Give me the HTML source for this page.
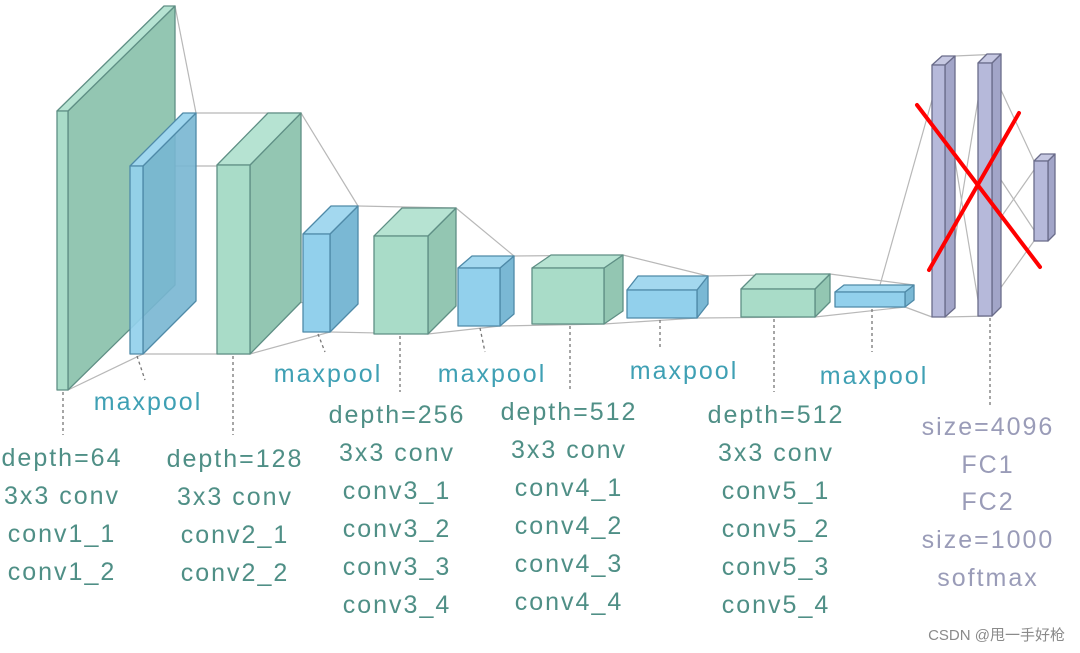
<!DOCTYPE html>
<html><head><meta charset="utf-8"><style>
body{margin:0;background:#fff;width:1080px;height:653px;overflow:hidden}
svg{display:block}
.t{font-family:"Liberation Sans","DejaVu Sans",sans-serif;font-size:25px;letter-spacing:2px;fill:#4f8f86;text-anchor:middle}
.m{fill:#3fa0b4}
.f{fill:#9a9cb8}
</style></head><body>
<svg width="1080" height="653" viewBox="0 0 1080 653">
<g stroke="#b8b8b8" stroke-width="1.2" fill="none">
<line x1="175" y1="6" x2="196" y2="113"/><line x1="68" y1="390" x2="143" y2="354"/>
<line x1="196" y1="113" x2="301" y2="113"/><line x1="143" y1="354" x2="250" y2="354"/><line x1="143" y1="166" x2="250" y2="166"/>
<line x1="301" y1="113" x2="358" y2="206"/><line x1="250" y1="354" x2="330" y2="332"/><line x1="250" y1="300" x2="330" y2="304"/>
<line x1="358" y1="206" x2="456" y2="208"/><line x1="330" y1="332" x2="428" y2="334"/>
<line x1="456" y1="208" x2="514" y2="256"/><line x1="428" y1="334" x2="500" y2="326"/>
<line x1="514" y1="256" x2="623" y2="255"/><line x1="500" y1="326" x2="604" y2="324"/>
<line x1="623" y1="255" x2="708" y2="276"/><line x1="604" y1="324" x2="697" y2="318"/>
<line x1="708" y1="276" x2="830" y2="274"/><line x1="697" y1="318" x2="815" y2="317"/>
<line x1="830" y1="274" x2="914" y2="285"/><line x1="815" y1="317" x2="905" y2="307"/>
<line x1="880" y1="285" x2="932" y2="100"/><line x1="905" y1="307" x2="932" y2="317"/>
<line x1="955" y1="56" x2="1001" y2="54"/><line x1="945" y1="317" x2="992" y2="316"/>
<line x1="945" y1="100" x2="978" y2="300"/><line x1="945" y1="300" x2="978" y2="100"/>
<line x1="1001" y1="90" x2="1034" y2="161"/><line x1="992" y1="300" x2="1034" y2="241"/>
<line x1="1001" y1="180" x2="1034" y2="230"/><line x1="992" y1="230" x2="1034" y2="170"/>
</g>
<g stroke="#5f8f85" stroke-width="1.3" stroke-linejoin="round">
<polygon points="68,111 175,6 175,285 68,390" fill="#93c6b2"/>
<polygon points="57,111 68,111 175,6 164,6" fill="#b6e3d2"/>
<rect x="57" y="111" width="11" height="279" fill="#a9dcc8"/>
<polygon points="143,166 196,113 196,301 143,354" fill="#78b6d2" fill-opacity="0.9" stroke="#4f8aa8"/>
<polygon points="130,166 143,166 196,113 183,113" fill="#9fd6ee" stroke="#4f8aa8"/>
<rect x="130" y="166" width="13" height="188" fill="#92d0ec" fill-opacity="0.92" stroke="#4f8aa8"/>
<polygon points="250,165 301,113 301,302 250,354" fill="#93c6b2"/>
<polygon points="217,165 250,165 301,113 268,113" fill="#b6e3d2"/>
<rect x="217" y="165" width="33" height="189" fill="#a9dcc8"/>
<polygon points="330,234 358,206 358,304 330,332" fill="#7ab8d4" stroke="#4f8aa8"/>
<polygon points="303,234 330,234 358,206 331,206" fill="#a3d8ef" stroke="#4f8aa8"/>
<rect x="303" y="234" width="27" height="98" fill="#92d0ec" stroke="#4f8aa8"/>
<polygon points="428,236 456,208 456,306 428,334" fill="#93c6b2"/>
<polygon points="374,236 428,236 456,208 402,208" fill="#b6e3d2"/>
<rect x="374" y="236" width="54" height="98" fill="#a9dcc8"/>
<polygon points="500,268 514,256 514,314 500,326" fill="#7ab8d4" stroke="#4f8aa8"/>
<polygon points="458,268 500,268 514,256 472,256" fill="#a3d8ef" stroke="#4f8aa8"/>
<rect x="458" y="268" width="42" height="58" fill="#92d0ec" stroke="#4f8aa8"/>
<polygon points="604,268 623,255 623,311 604,324" fill="#93c6b2"/>
<polygon points="532,268 604,268 623,255 551,255" fill="#b6e3d2"/>
<rect x="532" y="268" width="72" height="56" fill="#a9dcc8"/>
<polygon points="697,290 708,276 708,304 697,318" fill="#7ab8d4" stroke="#4f8aa8"/>
<polygon points="627,290 697,290 708,276 638,276" fill="#a3d8ef" stroke="#4f8aa8"/>
<rect x="627" y="290" width="70" height="28" fill="#92d0ec" stroke="#4f8aa8"/>
<polygon points="815,289 830,274 830,302 815,317" fill="#93c6b2"/>
<polygon points="741,289 815,289 830,274 756,274" fill="#b6e3d2"/>
<rect x="741" y="289" width="74" height="28" fill="#a9dcc8"/>
<polygon points="905,292 914,285 914,300 905,307" fill="#7ab8d4" stroke="#4f8aa8"/>
<polygon points="835,292 905,292 914,285 844,285" fill="#a3d8ef" stroke="#4f8aa8"/>
<rect x="835" y="292" width="70" height="15" fill="#92d0ec" stroke="#4f8aa8"/>
</g>
<g stroke="#6a6c8a" stroke-width="1.3" stroke-linejoin="round">
<polygon points="945,65 955,56 955,308 945,317" fill="#a2a5c8"/>
<polygon points="932,65 945,65 955,56 942,56" fill="#c6c8e2"/>
<rect x="932" y="65" width="13" height="252" fill="#b6b9da"/>
<polygon points="992,63 1001,54 1001,307 992,316" fill="#a2a5c8"/>
<polygon points="978,63 992,63 1001,54 987,54" fill="#c6c8e2"/>
<rect x="978" y="63" width="14" height="253" fill="#b6b9da"/>
<polygon points="1048,161 1055,154 1055,234 1048,241" fill="#a2a5c8"/>
<polygon points="1034,161 1048,161 1055,154 1041,154" fill="#c6c8e2"/>
<rect x="1034" y="161" width="14" height="80" fill="#b6b9da"/>
</g>
<g stroke="#ff0000" stroke-width="4" stroke-linecap="round">
<line x1="917" y1="105" x2="1040" y2="267"/><line x1="929" y1="270" x2="1019" y2="113"/>
</g>
<g stroke="#777" stroke-width="1.3" stroke-dasharray="3,3">
<line x1="63" y1="392" x2="63" y2="435"/><line x1="137" y1="356" x2="145" y2="380"/>
<line x1="233" y1="356" x2="233" y2="435"/><line x1="318" y1="334" x2="325" y2="352"/>
<line x1="400" y1="336" x2="400" y2="392"/><line x1="480" y1="328" x2="485" y2="352"/>
<line x1="570" y1="326" x2="570" y2="392"/><line x1="660" y1="320" x2="660" y2="350"/>
<line x1="774" y1="319" x2="774" y2="392"/><line x1="872" y1="309" x2="872" y2="352"/>
<line x1="990" y1="318" x2="990" y2="405"/>
</g>
<g class="t m">
<text x="148" y="410">maxpool</text><text x="328" y="382">maxpool</text><text x="492" y="382">maxpool</text><text x="684" y="379">maxpool</text><text x="874" y="384">maxpool</text>
</g>
<g class="t">
<text x="62" y="466">depth=64</text><text x="62" y="504">3x3 conv</text><text x="62" y="542">conv1_1</text><text x="62" y="580">conv1_2</text>
<text x="235" y="467">depth=128</text><text x="235" y="505">3x3 conv</text><text x="235" y="543">conv2_1</text><text x="235" y="581">conv2_2</text>
<text x="397" y="423">depth=256</text><text x="397" y="461">3x3 conv</text><text x="397" y="499">conv3_1</text><text x="397" y="537">conv3_2</text><text x="397" y="575">conv3_3</text><text x="397" y="613">conv3_4</text>
<text x="569" y="420">depth=512</text><text x="569" y="458">3x3 conv</text><text x="569" y="496">conv4_1</text><text x="569" y="534">conv4_2</text><text x="569" y="572">conv4_3</text><text x="569" y="610">conv4_4</text>
<text x="776" y="423">depth=512</text><text x="776" y="461">3x3 conv</text><text x="776" y="499">conv5_1</text><text x="776" y="537">conv5_2</text><text x="776" y="575">conv5_3</text><text x="776" y="613">conv5_4</text>
</g>
<g class="t f">
<text x="988" y="435">size=4096</text><text x="988" y="473">FC1</text><text x="988" y="510">FC2</text><text x="988" y="548">size=1000</text><text x="988" y="586">softmax</text>
</g>
<text x="1065" y="640" text-anchor="end" font-family="'Liberation Sans','Noto Sans CJK SC',sans-serif" font-size="15" fill="#8a8a8a">CSDN @甩一手好枪</text>
</svg>
</body></html>
